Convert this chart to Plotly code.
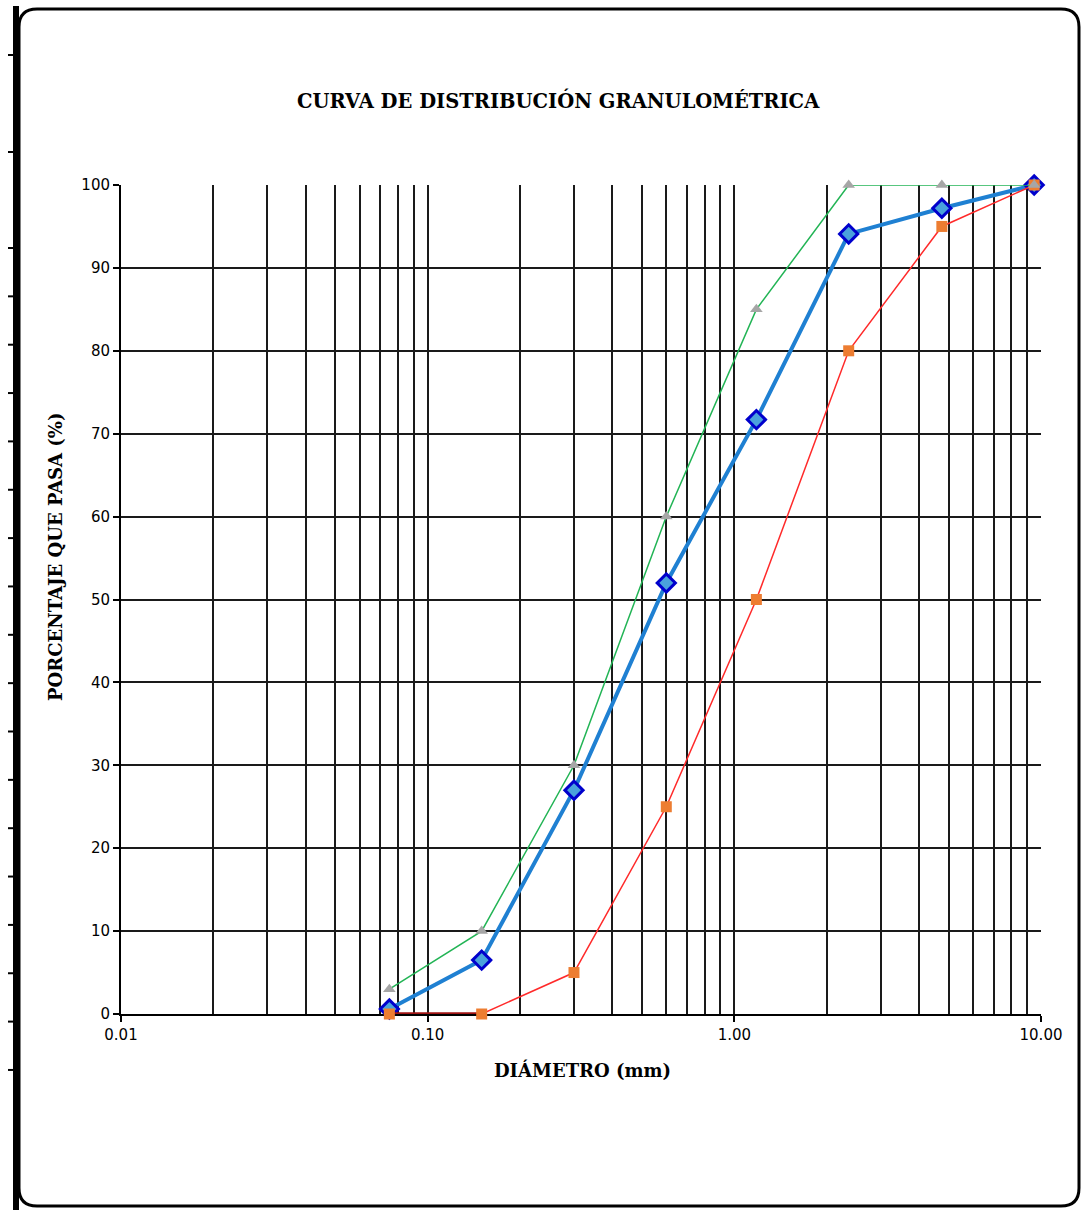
import plotly.graph_objects as go

# ---- data ----
sieve_mm = [0.075, 0.15, 0.3, 0.6, 1.18, 2.36, 4.75, 9.5]
muestra = [0.6, 6.5, 27.0, 52.0, 71.7, 94.1, 97.2, 100.0]
lim_superior = [3, 10, 30, 60, 85, 100, 100, 100]
lim_inferior = [0, 0, 5, 25, 50, 80, 95, 100]
x_tick_vals = [0.01, 0.1, 1, 10]
x_tick_text = ["0.01", "0.10", "1.00", "10.00"]
y_tick_vals = list(range(0, 101, 10))

W, H = 1082, 1210
L, R, T, B = 121, 1041, 185, 1014

def px(x):
    return (x - L) / (R - L)

def py(y):
    return (B - y) / (B - T)

fig = go.Figure()

fig.add_trace(go.Scatter(
    x=sieve_mm, y=muestra, mode="lines+markers",
    line=dict(color="#1f80d2", width=4),
    marker=dict(symbol="diamond", size=14, color="#4aa2dc",
                line=dict(color="#0000cc", width=3)),
    cliponaxis=False, showlegend=False))

fig.add_trace(go.Scatter(
    x=sieve_mm, y=lim_inferior, mode="lines",
    line=dict(color="#ff2a2a", width=1.5),
    cliponaxis=False, showlegend=False))

# segment of lower limit lying on zero
zx = [x for x, v in zip(sieve_mm, lim_inferior) if v == 0]
zy = [v for v in lim_inferior if v == 0]
fig.add_trace(go.Scatter(
    x=zx, y=zy, mode="lines", line=dict(color="#a01515", width=3.5),
    cliponaxis=False, showlegend=False))

fig.add_trace(go.Scatter(
    x=sieve_mm, y=lim_inferior, mode="markers",
    marker=dict(symbol="square", size=11, color="#ed7d31"),
    cliponaxis=False, showlegend=False))

fig.add_trace(go.Scatter(
    x=sieve_mm, y=lim_superior, mode="lines+markers",
    line=dict(color="#22b455", width=1.5),
    marker=dict(symbol="triangle-up", size=11, color="#a6a6a6"),
    cliponaxis=False, showlegend=False))

minor_vals = []
for d in [0.01, 0.1, 1]:
    for k in range(2, 10):
        minor_vals.append(round(d * k, 4))

fig.update_xaxes(
    type="log", range=[-2, 1],
    tickmode="array", tickvals=x_tick_vals, ticktext=x_tick_text,
    ticks="outside", ticklen=6, tickcolor="black", tickwidth=1.5,
    showgrid=True, gridcolor="#1a1a1a", gridwidth=1.8,
    minor=dict(tickmode="array", tickvals=minor_vals, showgrid=True,
               gridcolor="#1a1a1a", gridwidth=1.8, ticks=""),
    showline=True, linecolor="black", linewidth=2, mirror=False,
    tickfont=dict(family="DejaVu Sans", size=15, color="black"),
    zeroline=False, layer="below traces")

fig.update_yaxes(
    range=[0, 100], tickmode="array", tickvals=y_tick_vals,
    ticks="outside", ticklen=6, tickcolor="black", tickwidth=1.5,
    showgrid=True, gridcolor="#1a1a1a", gridwidth=1.8,
    showline=True, linecolor="black", linewidth=2,
    tickfont=dict(family="DejaVu Sans", size=15, color="black"),
    zeroline=False, layer="below traces")

annotations = [
    dict(text="<b>CURVA DE DISTRIBUCIÓN GRANULOMÉTRICA</b>",
         x=px(558), y=py(100), xref="paper", yref="paper",
         showarrow=False, xanchor="center", yanchor="middle",
         font=dict(family="DejaVu Serif", size=19.5, color="black")),
    dict(text="<b>PORCENTAJE QUE PASA (%)</b>",
         x=px(55), y=py(557), xref="paper", yref="paper", textangle=-90,
         showarrow=False, xanchor="center", yanchor="middle",
         font=dict(family="DejaVu Serif", size=18, color="black")),
    dict(text="<b>DIÁMETRO (mm)</b>",
         x=px(582), y=py(1070), xref="paper", yref="paper",
         showarrow=False, xanchor="center", yanchor="middle",
         font=dict(family="DejaVu Serif", size=18, color="black")),
]

def P(x, y):
    return f"{px(x):.5f},{py(y):.5f}"

xl, xr, yt, yb, r = 19, 1079, 9, 1206, 18
frame = (f"M {P(xl + r, yt)} L {P(xr - r, yt)} Q {P(xr, yt)} {P(xr, yt + r)} "
         f"L {P(xr, yb - r)} Q {P(xr, yb)} {P(xr - r, yb)} "
         f"L {P(xl + r, yb)} Q {P(xl, yb)} {P(xl, yb - r)} "
         f"L {P(xl, yt + r)} Q {P(xl, yt)} {P(xl + r, yt)} Z")

shapes = [
    dict(type="path", path=frame, xref="paper", yref="paper",
         line=dict(color="black", width=3), layer="below"),
    dict(type="line", x0=px(16), x1=px(16), y0=py(6), y1=py(1212),
         xref="paper", yref="paper", line=dict(color="black", width=6)),
]
tick_ys = [55, 152] + [248 + k * 48.35 for k in range(18)]
for ty in tick_ys:
    shapes.append(dict(type="line", x0=px(8), x1=px(16), y0=py(ty), y1=py(ty),
                       xref="paper", yref="paper",
                       line=dict(color="black", width=2)))

fig.update_layout(
    width=W, height=H,
    margin=dict(l=L, r=W - R, t=T, b=H - B),
    paper_bgcolor="white", plot_bgcolor="white",
    annotations=annotations, shapes=shapes, showlegend=False)

fig.write_html("out.html")
